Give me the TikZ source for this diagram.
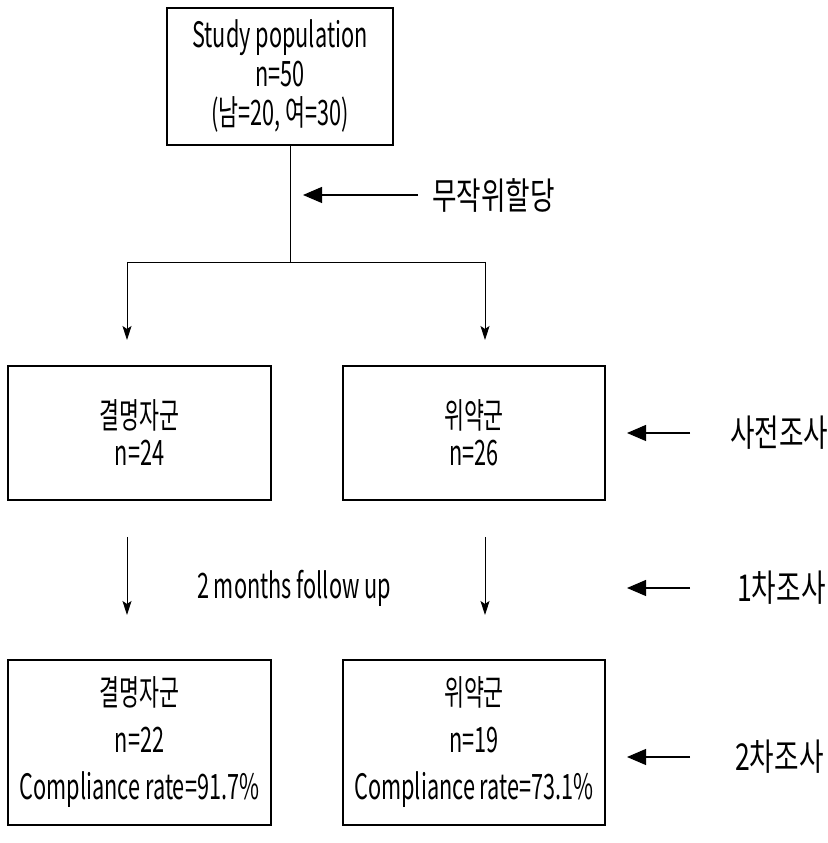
\documentclass[tikz,border=0pt]{standalone}
\usepackage{fontspec}
\setmainfont{Noto Sans CJK KR}[FakeStretch=0.62]
\newfontfamily\labfont{Noto Sans CJK KR}[FakeStretch=0.72]
\usetikzlibrary{arrows.meta}
\tikzset{
  box/.style={draw, line width=1.1pt, minimum width=#1, inner sep=0pt, align=center},
  lab/.style={anchor=west, inner sep=0pt, font=\labfont\fontsize{37}{40}\selectfont},
  tline/.style={line width=0.9pt},
  downarr/.style={tline, -{Stealth[length=14pt,width=9pt,inset=3pt]}},
  leftarr/.style={line width=1.1pt, -{Triangle[length=19pt,width=16pt]}},
  boxtext/.style={font=\fontsize{35}{37}\selectfont}
}
\begin{document}
\begin{tikzpicture}[x=1pt,y=1pt]
\useasboundingbox (0,0) rectangle (827,843);
% top box
\node[box=226pt, minimum height=137pt, font=\fontsize{35}{39}\selectfont] (top) at (280,766.5)
  {Study population\\n=50\\(남=20, 여=30)};
\coordinate (b1) at (290,698);
\coordinate (b2) at (290,581);
\coordinate (bl) at (127,581);
\coordinate (br) at (485,581);
\coordinate (al) at (127,503);
\coordinate (ar) at (485,503);
\draw[tline] (b1) -- (b2);
\draw[tline] (bl) -- (br);
\draw[downarr] (bl) -- (al);
\draw[downarr] (br) -- (ar);
% random allocation
\node[lab] (rand) at (432,648) {무작위할당};
\coordinate (randt) at (303,648);
\draw[leftarr] (418,648) coordinate (rands) -- (randt);
% middle boxes
\node[box=263pt, minimum height=134pt, boxtext] (m1) at (139.5,410) {결명자군\\n=24};
\node[box=262pt, minimum height=134pt, boxtext] (m2) at (474,410) {위약군\\n=26};
\node[lab] (pre) at (730,410) {사전조사};
\coordinate (pres) at (690,410);
\coordinate (pret) at (627,410);
\draw[leftarr] (pres) -- (pret);
% follow-up arrows
\coordinate (f1s) at (127,306);
\coordinate (f1e) at (127,228);
\coordinate (f2s) at (485,306);
\coordinate (f2e) at (485,228);
\draw[downarr] (f1s) -- (f1e);
\draw[downarr] (f2s) -- (f2e);
\node[inner sep=0pt, font=\fontsize{35}{38}\selectfont] (fu) at (294,255) {2 months follow up};
\node[lab] (first) at (737,255) {1차조사};
\coordinate (fs) at (690,255);
\coordinate (ft) at (627,255);
\draw[leftarr] (fs) -- (ft);
% bottom boxes
\node[box=263pt, minimum height=165pt, align=center, font=\fontsize{35}{47}\selectfont] (l1) at (139.5,100.5)
  {결명자군\\n=22\\Compliance rate=91.7\%};
\node[box=262pt, minimum height=165pt, align=center, font=\fontsize{35}{47}\selectfont] (l2) at (474,100.5)
  {위약군\\n=19\\Compliance rate=73.1\%};
\node[lab] (second) at (735,86) {2차조사};
\coordinate (ss) at (690,86);
\coordinate (st) at (627,86);
\draw[leftarr] (ss) -- (st);
\end{tikzpicture}
\end{document}
